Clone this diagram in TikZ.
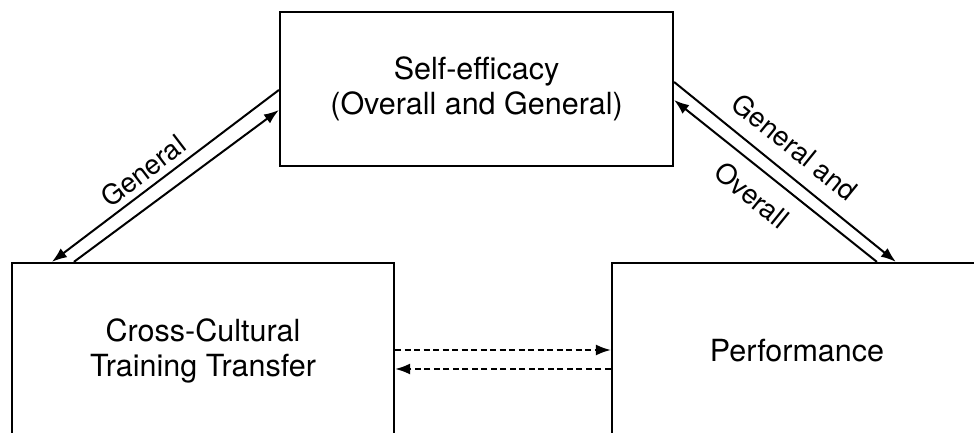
\documentclass[tikz,border=0pt]{standalone}
\usepackage{fontspec}
\setmainfont{TeX Gyre Heros}
\usetikzlibrary{arrows.meta}
\begin{document}
\begin{tikzpicture}[x=1pt,y=1pt,
  box/.style={draw,line width=2.2pt,inner sep=0pt,align=center,font=\fontsize{30.5}{35}\selectfont},
  link/.style={line width=2pt,-{Latex[length=15pt,width=11pt]}},
  dlink/.style={link,dash pattern=on 6pt off 3.5pt},
  lbl/.style={font=\fontsize{27.5}{30}\selectfont,inner sep=0pt}]
\useasboundingbox (0,0) rectangle (974,433);
\node[box,minimum width=393pt,minimum height=154pt] (top) at (476.5,344) {Self-efficacy\\(Overall and General)};
\node[box,minimum width=382pt,minimum height=176pt] (ccl) at (203,82) {Cross-Cultural\\Training Transfer};
\node[box,minimum width=370pt,minimum height=176pt] (perf) at (797,82) {Performance};
% left pair
\draw[link] ([yshift=-1pt]top.west) -- ([xshift=41pt]ccl.north west);
\draw[link] ([xshift=63pt]ccl.north west) -- ([yshift=-21pt]top.west);
% right pair
\draw[link] ([yshift=7pt]top.east) -- ([xshift=285pt]perf.north west);
\draw[link] ([xshift=266pt]perf.north west) -- ([yshift=-11pt]top.east);
% dashed
\draw[dlink] ([yshift=1pt]ccl.east) -- ([yshift=1pt]perf.west);
\draw[dlink] ([yshift=-18pt]perf.west) -- ([yshift=-18pt]ccl.east);
% labels
\node[lbl,rotate=37.4] (lg) at (143,262) {General};
\node[lbl,rotate=-39] (lga) at (795,286) {General and};
\node[lbl,rotate=-39] (lo) at (752,238) {Overall};
\end{tikzpicture}
\end{document}
